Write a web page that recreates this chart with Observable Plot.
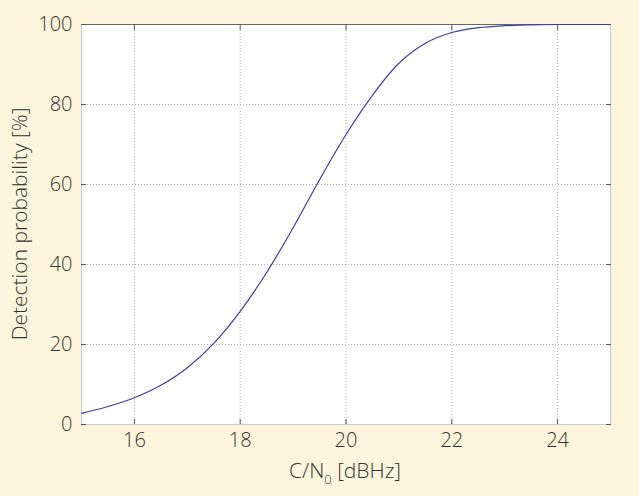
<!DOCTYPE html>
<html>
<head>
<meta charset="utf-8">
<script src="https://cdn.jsdelivr.net/npm/d3@7"></script>
<script src="https://cdn.jsdelivr.net/npm/@observablehq/plot@0.6"></script>
<style>
  html, body { margin: 0; padding: 0; background: #fdf6dc; }
  #chart { width: 639px; height: 496px; }
  svg { display: block; }
</style>
</head>
<body>
<div id="chart"></div>
<script>
// C/N0 in dBHz
const cn0 = [15, 15.5, 16, 16.5, 17, 17.5, 18, 18.5, 19, 19.5, 20, 20.5, 21, 21.5, 22, 22.5, 23, 23.5, 24, 24.5, 25];
// Detection probability in %
const pd  = [2.8, 4.5, 6.7, 9.8, 14.2, 20.3, 28.3, 38.0, 49.2, 61.2, 72.5, 82.3, 90.3, 95.3, 98.0, 99.2, 99.7, 99.9, 100, 100, 100];
const xTicks = [16, 18, 20, 22, 24];
const yTicks = [0, 20, 40, 60, 80, 100];

const data = cn0.map((x, i) => ({x, y: pd[i]}));
const font = "'Open Sans', 'DejaVu Sans', sans-serif";
const textColor = "#333";

const chart = Plot.plot({
  width: 639,
  height: 496,
  marginLeft: 81,
  marginRight: 29,
  marginTop: 24,
  marginBottom: 72,
  style: {background: "#fdf6dc", fontFamily: font, fontSize: "20px", fontWeight: 300, color: textColor},
  x: {domain: [15, 25], ticks: xTicks, label: null},
  y: {domain: [0, 100], ticks: yTicks, label: null},
  marks: [
    Plot.frame({fill: "white", stroke: "none"}),
    Plot.gridX(xTicks, {stroke: "#999", strokeOpacity: 1, strokeDasharray: "1,2", strokeWidth: 0.8}),
    Plot.gridY(yTicks, {stroke: "#999", strokeOpacity: 1, strokeDasharray: "1,2", strokeWidth: 0.8}),
    Plot.frame({stroke: "#c8c8c8", strokeWidth: 1}),
    Plot.ruleY([100], {stroke: "#666", strokeWidth: 1}),
    Plot.axisX(xTicks, {anchor: "bottom", tickSize: -5, tickPadding: 13, stroke: "#555", fill: textColor, fontSize: 20}),
    Plot.axisX(xTicks, {anchor: "top", tickSize: -5, tickFormat: () => "", stroke: "#555"}),
    Plot.axisY(yTicks, {anchor: "left", tickSize: -5, tickPadding: 14, stroke: "#555", fill: textColor, fontSize: 20}),
    Plot.axisY(yTicks, {anchor: "right", tickSize: -5, tickFormat: () => "", stroke: "#555"}),
    Plot.line(data, {x: "x", y: "y", stroke: "#3a3fa8", strokeWidth: 1.2, curve: "monotone-x"})
  ]
});

const svg = d3.select(chart);
// x-axis label with subscript
const xl = svg.append("text")
  .attr("x", 345).attr("y", 478)
  .attr("text-anchor", "middle")
  .attr("fill", textColor)
  .style("font-family", font).style("font-size", "21px").style("font-weight", 300);
xl.append("tspan").text("C/N");
xl.append("tspan").attr("dy", 6).style("font-size", "13px").text("0");
xl.append("tspan").attr("dy", -6).text(" [dBHz]");

// y-axis label
svg.append("text")
  .attr("transform", "translate(27,224) rotate(-90)")
  .attr("text-anchor", "middle")
  .attr("fill", textColor)
  .style("font-family", font).style("font-size", "21px").style("font-weight", 300)
  .text("Detection probability [%]");

document.getElementById("chart").appendChild(chart);
</script>
</body>
</html>
